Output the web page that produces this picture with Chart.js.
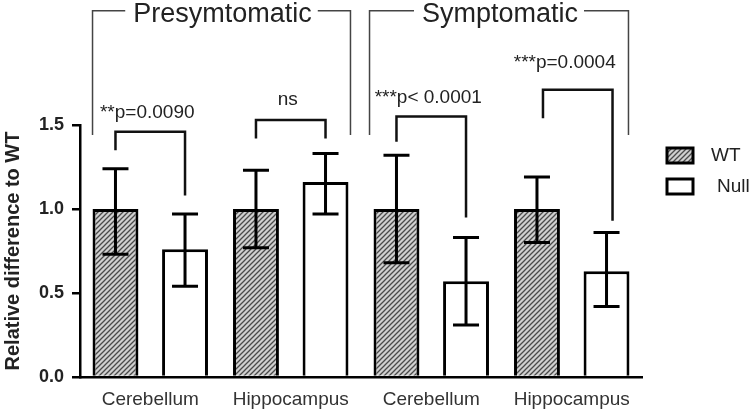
<!DOCTYPE html>
<html>
<head>
<meta charset="utf-8">
<script src="https://cdn.jsdelivr.net/npm/chart.js@4/dist/chart.umd.min.js"></script>
<style>
    body { margin: 0; background: #fff; }
    #chartBox { width: 752px; height: 412px; }
</style>
</head>
<body>
<div id="chartBox"><canvas id="myChart" width="752" height="412"></canvas></div>
<script>
const categories = ["Cerebellum", "Hippocampus", "Cerebellum", "Hippocampus"];
const wtMeans = [1.0, 1.0, 1.0, 1.0];
const wtLow = [0.73, 0.77, 0.68, 0.8];
const wtHigh = [1.24, 1.23, 1.32, 1.19];
const nullMeans = [0.76, 1.16, 0.57, 0.63];
const nullLow = [0.54, 0.97, 0.31, 0.42];
const nullHigh = [0.97, 1.33, 0.83, 0.86];
const seriesNames = ["WT", "Null"];

// stage brackets over pairs of categories
const groupNames = ["Presymtomatic", "Symptomatic"];
const groupFrom = [0, 2];
const groupTo = [1, 3];

// significance brackets (values in y units)
const sigLabels = ["**p=0.0090", "ns", "***p< 0.0001", "***p=0.0004"];
const sigLeftLeg = [1.35, 1.42, 1.4, 1.54];
const sigTop = [1.46, 1.53, 1.55, 1.71];
const sigRightLeg = [1.08, 1.42, 0.95, 0.93];
const sigTextY = [1.57, 1.65, 1.66, 1.87];

const FONT = 'Arial, "Liberation Sans", sans-serif';

function makeHatch() {
    const c = document.createElement("canvas");
    c.width = 5;
    c.height = 5;
    const x = c.getContext("2d");
    x.fillStyle = "#d0d0d0";
    x.fillRect(0, 0, 5, 5);
    x.strokeStyle = "#4a4a4a";
    x.lineWidth = 1.3;
    x.beginPath();
    x.moveTo(0, 5); x.lineTo(5, 0);
    x.moveTo(-1, 1); x.lineTo(1, -1);
    x.moveTo(4, 6); x.lineTo(6, 4);
    x.stroke();
    return x.createPattern(c, "repeat");
}
const hatch = makeHatch();

const errorBars = {
    id: "errorBars",
    afterDatasetsDraw(chart) {
        const ctx = chart.ctx;
        const y = chart.scales.y;
        const lows = [wtLow, nullLow];
        const highs = [wtHigh, nullHigh];
        ctx.save();
        ctx.strokeStyle = "#000";
        ctx.lineWidth = 3;
        chart.data.datasets.forEach((ds, d) => {
            chart.getDatasetMeta(d).data.forEach((bar, i) => {
                const lo = y.getPixelForValue(lows[d][i]);
                const hi = y.getPixelForValue(highs[d][i]);
                ctx.beginPath();
                ctx.moveTo(bar.x, lo); ctx.lineTo(bar.x, hi);
                ctx.moveTo(bar.x - 13, lo); ctx.lineTo(bar.x + 13, lo);
                ctx.moveTo(bar.x - 13, hi); ctx.lineTo(bar.x + 13, hi);
                ctx.stroke();
            });
        });
        ctx.restore();
    },
};

const annotations = {
    id: "annotations",
    afterDraw(chart) {
        const ctx = chart.ctx;
        const y = chart.scales.y;
        const wt = chart.getDatasetMeta(0).data;
        const nl = chart.getDatasetMeta(1).data;
        ctx.save();

        // significance brackets
        ctx.strokeStyle = "#111";
        ctx.lineWidth = 2.5;
        ctx.fillStyle = "#222";
        ctx.font = "19px " + FONT;
        ctx.textAlign = "center";
        ctx.textBaseline = "middle";
        sigLabels.forEach((label, i) => {
            const xl = wt[i].x;
            const xr = nl[i].x + (i === 3 ? 6 : 0);
            const xa = i === 3 ? xl + 6 : xl;
            ctx.beginPath();
            ctx.moveTo(xa, y.getPixelForValue(sigLeftLeg[i]));
            ctx.lineTo(xa, y.getPixelForValue(sigTop[i]));
            ctx.lineTo(xr, y.getPixelForValue(sigTop[i]));
            ctx.lineTo(xr, y.getPixelForValue(sigRightLeg[i]));
            ctx.stroke();
            const tx = i === 3 ? (xa + xr) / 2 - 13 : (xa + xr) / 2 - 3;
            ctx.fillText(label, tx, y.getPixelForValue(sigTextY[i]));
        });

        // stage brackets
        ctx.strokeStyle = "#444";
        ctx.lineWidth = 1.5;
        ctx.font = "27px " + FONT;
        const topY = y.getPixelForValue(2.18);
        const botY = y.getPixelForValue(1.44);
        groupNames.forEach((name, g) => {
            const a = wt[groupFrom[g]];
            const b = nl[groupTo[g]];
            const xl = a.x - a.width / 2 - (g === 1 ? 4 : 0);
            const xr = b.x + b.width / 2 + 2 - (g === 1 ? 3 : 0);
            const mid = (xl + xr) / 2;
            const half = ctx.measureText(name).width / 2 + 7;
            ctx.beginPath();
            ctx.moveTo(xl, botY); ctx.lineTo(xl, topY); ctx.lineTo(mid - half, topY);
            ctx.moveTo(mid + half, topY); ctx.lineTo(xr, topY); ctx.lineTo(xr, botY);
            ctx.stroke();
            ctx.fillText(name, mid + 1, topY + 4);
        });

        // legend
        const lx = 667;
        const swatchFill = [hatch, "#fff"];
        ctx.font = "19px " + FONT;
        ctx.textAlign = "left";
        seriesNames.forEach((name, k) => {
            const ly = 148 + k * 31;
            ctx.fillStyle = swatchFill[k];
            ctx.fillRect(lx, ly, 26, 15);
            ctx.strokeStyle = "#000";
            ctx.lineWidth = 3;
            ctx.strokeRect(lx, ly, 26, 15);
            ctx.fillStyle = "#222";
            ctx.fillText(name, lx + 44 + k * 6, ly + 8);
        });
        ctx.restore();
    },
};

function createChart() {
    const content = document.getElementById("myChart");
    return new Chart(content, {
        type: "bar",
        data: {
            labels: categories,
            datasets: [
                {
                    label: seriesNames[0],
                    data: wtMeans,
                    backgroundColor: hatch,
                    borderColor: "#000",
                    borderWidth: 3,
                },
                {
                    label: seriesNames[1],
                    data: nullMeans,
                    backgroundColor: "#fff",
                    borderColor: "#000",
                    borderWidth: 3,
                },
            ],
        },
        options: {
            responsive: false,
            animation: false,
            datasets: {
                bar: { categoryPercentage: 0.99, barPercentage: 0.66 },
            },
            layout: { padding: { top: 125, right: 110, left: 0, bottom: 0 } },
            plugins: {
                legend: { display: false },
                tooltip: { enabled: false },
            },
            scales: {
                x: {
                    grid: { display: false },
                    border: { display: true, color: "#000", width: 2.5 },
                    ticks: {
                        color: "#333",
                        padding: 3,
                        font: { family: FONT, size: 19 },
                    },
                    afterFit: (s) => { s.height = 35; },
                },
                y: {
                    min: 0,
                    max: 1.5,
                    ticks: {
                        stepSize: 0.5,
                        color: "#222",
                        padding: 8,
                        font: { family: FONT, size: 18, weight: "bold" },
                        callback: (v) => v.toFixed(1),
                    },
                    grid: {
                        display: true,
                        drawOnChartArea: false,
                        drawTicks: true,
                        tickLength: 8,
                        color: "#000",
                        lineWidth: 2.5,
                    },
                    border: { display: true, color: "#000", width: 2.5 },
                    title: {
                        display: true,
                        text: "Relative difference to WT",
                        color: "#222",
                        padding: { top: 1, bottom: 0 },
                        font: { family: FONT, size: 20, weight: "bold" },
                    },
                    afterFit: (s) => { s.width = 80; },
                },
            },
        },
        plugins: [errorBars, annotations],
    });
}

createChart();
</script>
</body>
</html>
